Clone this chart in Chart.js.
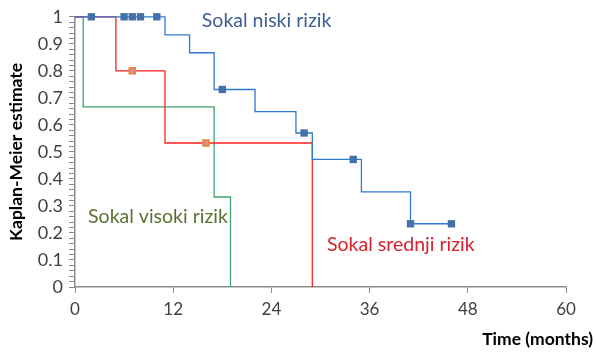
<!DOCTYPE html>
<html><head><meta charset="utf-8">
<script src="https://cdn.jsdelivr.net/npm/chart.js@4"></script>
<style>html,body{margin:0;padding:0;background:#fff}#wrap{width:596px;height:352px}</style>
</head><body><div id="wrap"><canvas id="c" width="596" height="352"></canvas></div>
<script>
// Kaplan-Meier step curves (time in months, survival estimate)
const lowTimes = [0, 11, 14, 17, 22, 27, 29, 35, 41, 46];
const lowSurv  = [1, 0.933, 0.867, 0.731, 0.649, 0.570, 0.472, 0.352, 0.234, 0.234];
const lowCensTimes = [2, 6, 7, 8, 10, 18, 28, 34, 41, 46];
const lowCensSurv  = [1, 1, 1, 1, 1, 0.731, 0.570, 0.472, 0.234, 0.234];

const midTimes = [0, 5, 11, 29];
const midSurv  = [1, 0.8, 0.533, 0];
const midCensTimes = [7, 16];
const midCensSurv  = [0.8, 0.533];

const highTimes = [0, 1, 17, 19];
const highSurv  = [1, 0.667, 0.333, 0];

const xTicks = [0, 12, 24, 36, 48, 60];
const yTickLabels = [0, 0.1, 0.2, 0.3, 0.4, 0.5, 0.6, 0.7, 0.8, 0.9, 1];

const seriesLabels = [
  {text: 'Sokal niski rizik', x: 15.5, y: 0.985, color: '#3C5E91'},
  {text: 'Sokal visoki rizik', x: 1.6, y: 0.26, color: '#5B7133'},
  {text: 'Sokal srednji rizik', x: 30.8, y: 0.158, color: '#D9212B'}
];
const xTitle = 'Time (months)';
const yTitle = 'Kaplan-Meier estimate';

const pts = (xs, ys) => xs.map((x, i) => ({x, y: ys[i]}));
const FONT = 'Lato';

const labelPlugin = {
  id: 'labels',
  afterDraw(chart) {
    const ctx = chart.ctx, xs = chart.scales.x, ys = chart.scales.y;
    ctx.save();
    ctx.textBaseline = 'middle';
    ctx.textAlign = 'left';
    ctx.font = '19.5px ' + FONT;
    seriesLabels.forEach(l => {
      ctx.fillStyle = l.color;
      ctx.fillText(l.text, xs.getPixelForValue(l.x), ys.getPixelForValue(l.y));
    });
    ctx.font = 'bold 17.5px ' + FONT;
    ctx.fillStyle = '#000';
    ctx.textAlign = 'right';
    ctx.fillText(xTitle, chart.width - 3, 339);
    ctx.restore();
  }
};

new Chart(document.getElementById('c'), {
  type: 'scatter',
  data: {
    datasets: [
      {data: pts(lowCensTimes, lowCensSurv), showLine: false, clip: false, pointStyle: 'rect', pointRadius: 5.2, backgroundColor: '#4270A8', borderColor: '#4270A8', borderWidth: 0, order: 0},
      {data: pts(midCensTimes, midCensSurv), showLine: false, clip: false, pointStyle: 'rect', pointRadius: 4.2, backgroundColor: '#D8908A', borderColor: '#E8822E', borderWidth: 1.5, order: 1},
      {data: pts(lowTimes, lowSurv), showLine: true, clip: false, stepped: true, borderColor: '#2F7AD0', borderWidth: 1.3, pointRadius: 0, fill: false, order: 2},
      {data: pts(midTimes, midSurv), showLine: true, clip: false, stepped: true, borderColor: '#FF2020', borderWidth: 1.3, pointRadius: 0, fill: false, order: 3},
      {data: pts(highTimes, highSurv), showLine: true, clip: false, stepped: true, borderColor: '#3FA46E', borderWidth: 1.3, pointRadius: 0, fill: false, order: 4}
    ]
  },
  options: {
    responsive: false,
    animation: false,
    layout: {padding: {top: 14, right: 30, left: 0, bottom: 0}},
    plugins: {legend: {display: false}, tooltip: {enabled: false}},
    scales: {
      x: {
        type: 'linear', min: 0, max: 60,
        afterBuildTicks: s => { s.ticks = xTicks.map(v => ({value: v})); },
        afterFit: s => { s.height = 65; },
        grid: {drawOnChartArea: false, drawTicks: true, tickLength: 6, color: '#8C8C8C', lineWidth: 1},
        border: {color: '#8C8C8C', width: 1.5},
        ticks: {font: {family: FONT, size: 17}, color: '#404040', padding: 6, maxRotation: 0}
      },
      y: {
        type: 'linear', min: 0, max: 1,
        afterBuildTicks: s => {
          const t = [];
          for (let i = 0; i <= 50; i++) t.push({value: i / 50});
          s.ticks = t;
        },
        afterFit: s => { s.width = 75; },
        grid: {drawOnChartArea: false, drawTicks: true, tickLength: 6, color: '#8C8C8C', lineWidth: 1},
        border: {color: '#8C8C8C', width: 1.5},
        title: {display: true, text: yTitle, font: {family: FONT, size: 17.5, weight: 'bold'}, color: '#000', padding: {top: 6, bottom: 0}},
        ticks: {
          autoSkip: false,
          font: {family: FONT, size: 18}, color: '#404040', padding: 6,
          callback: v => {
            const r = Math.round(v * 10) / 10;
            return (Math.abs(v - r) < 1e-6 && yTickLabels.includes(r)) ? String(r) : '';
          }
        }
      }
    }
  },
  plugins: [labelPlugin]
});
</script>
</body></html>
